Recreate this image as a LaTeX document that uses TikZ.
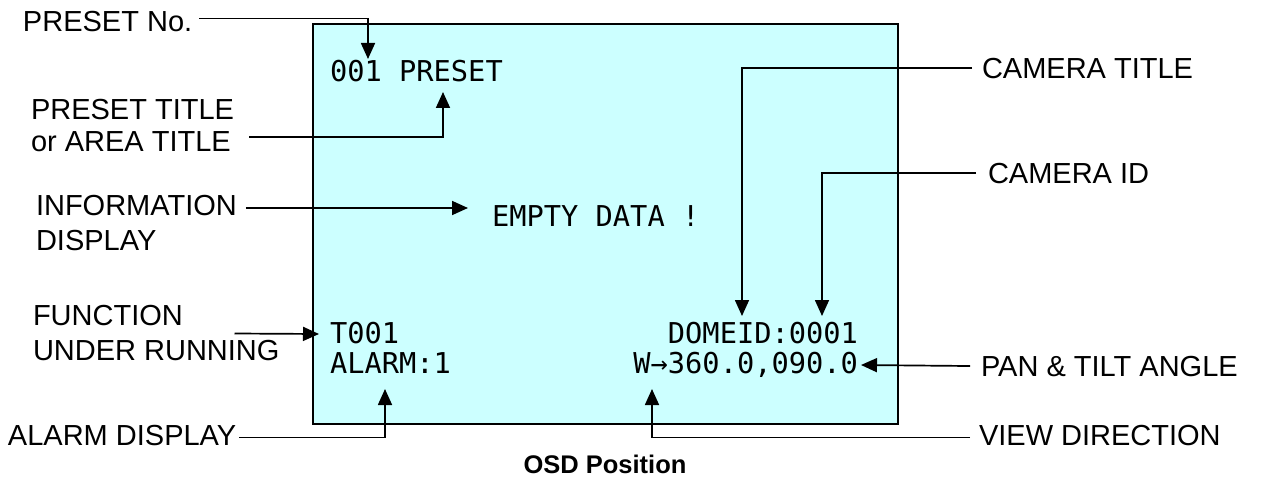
\documentclass[tikz,border=0pt]{standalone}
\usepackage{fontspec}
\setmainfont{Liberation Sans}
\newfontfamily\osdfont{DejaVu Sans Mono}
\usetikzlibrary{arrows.meta}
\definecolor{osdbg}{RGB}{204,255,255}
\begin{document}
\begin{tikzpicture}[x=1pt,y=-1pt,
  lbl/.style={font=\fontsize{29}{35}\selectfont, inner sep=0pt, outer sep=0pt, align=left},
  osd/.style={font=\osdfont\fontsize{28.7}{30}\selectfont, inner sep=0pt, outer sep=0pt},
  conn/.style={line width=1.7pt, -{Triangle[length=16pt,width=14pt]}},
]
\useasboundingbox (0,0) rectangle (1261,481);
% screen
\node[draw, line width=2.6pt, fill=osdbg, minimum width=585pt, minimum height=400pt,
      inner sep=0pt, outer sep=0pt, anchor=north west] (screen) at (313,24) {};
% OSD texts
\node[osd, anchor=base west] (tpreset) at (330,82) {001 PRESET};
\node[osd, anchor=base west] (tempty) at (492,227) {EMPTY DATA !};
\node[osd, anchor=base west] (tfunc) at (330,343) {T001};
\node[osd, anchor=base west] (talarm) at (330,373) {ALARM:1};
\node[osd, anchor=base east] (tdome) at (858,343) {DOMEID:0001};
\node[osd, anchor=base east] (tpan) at (858,373) {W→360.0,090.0};
% labels
\node[lbl, anchor=base west] (pno) at (23,32) {PRESET No.};
\node[lbl, anchor=west, font=\fontsize{29}{32}\selectfont] (ptitle) at (31,126) {PRESET TITLE\\or AREA TITLE};
\node[lbl, anchor=west] (info) at (36,223.5) {INFORMATION\\DISPLAY};
\node[lbl, anchor=west] (func) at (33,333.5) {FUNCTION\\UNDER RUNNING};
\node[lbl, anchor=base west] (alarm) at (8,445) {ALARM DISPLAY};
\node[lbl, anchor=base west] (camtitle) at (982,79) {CAMERA TITLE};
\node[lbl, anchor=base west] (camid) at (988,184) {CAMERA ID};
\node[lbl, anchor=base west] (pan) at (981,376) {PAN \& TILT ANGLE};
\node[lbl, anchor=base west] (view) at (979,445) {VIEW DIRECTION};
\node[font=\bfseries\fontsize{25.5}{30}\selectfont, inner sep=0pt] (cap) at (605,464) {OSD Position};
% arrow tips
\coordinate (a1) at (368,59);
\coordinate (a2) at (443,92);
\coordinate (a3) at (468,208);
\coordinate (a4) at (319,334);
\coordinate (a5) at (385,389);
\coordinate (a6) at (742,316);
\coordinate (a7) at (822,316);
\coordinate (a8) at (861,365);
\coordinate (a9) at (652,389);
% connectors
\draw[conn] ([xshift=7pt,yshift=3.5pt]pno.east) -| (a1);
\draw[conn] ([xshift=15pt,yshift=-11pt]ptitle.east) -| (a2);
\draw[conn] ([xshift=9pt,yshift=15.5pt]info.east) -- (a3);
\draw[conn] ([xshift=-45pt]func.east) -- (a4);
\draw[conn] ([xshift=3pt,yshift=-2.5pt]alarm.east) -| (a5);
\draw[conn] ([xshift=-10pt,yshift=1pt]camtitle.west) -| (a6);
\draw[conn] ([xshift=-12pt,yshift=1pt]camid.west) -| (a7);
\draw[conn] ([xshift=-11pt]pan.west) -- (a8);
\draw[conn] ([xshift=-9pt,yshift=-2.5pt]view.west) -| (a9);
\end{tikzpicture}
\end{document}
